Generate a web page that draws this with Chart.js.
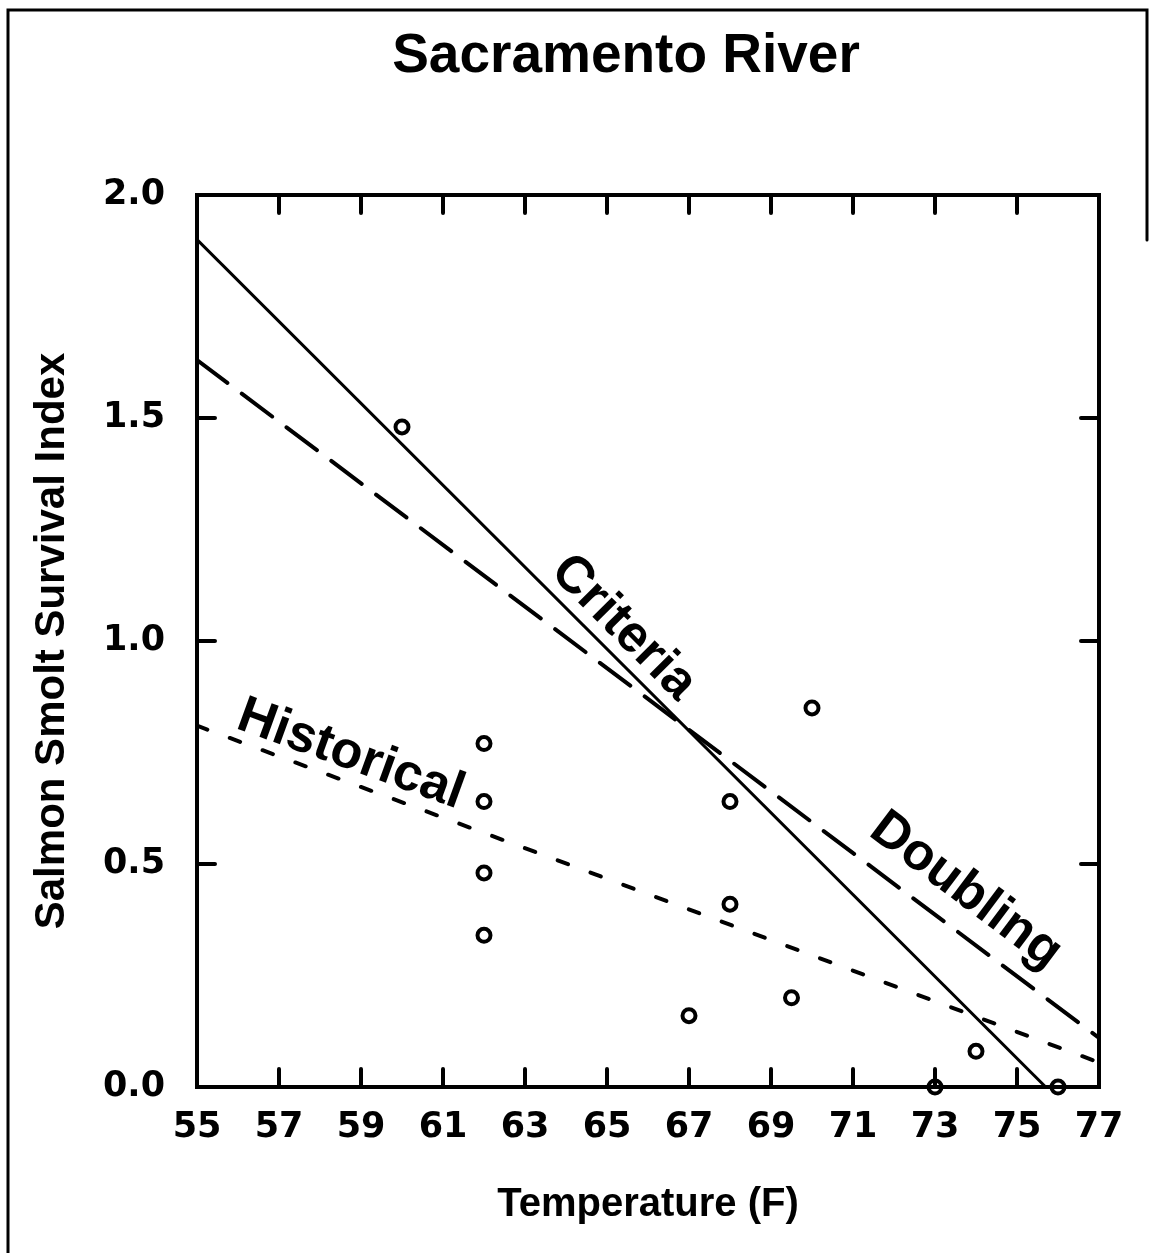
<!DOCTYPE html>
<html>
<head>
<meta charset="utf-8">
<title>Sacramento River</title>
<script src="https://cdn.jsdelivr.net/npm/chart.js@4.4.1/dist/chart.umd.min.js"></script>
<style>
	html, body { margin: 0; padding: 0; background: #fff; }
	#box { width: 1149px; height: 1253px; }
</style>
</head>
<body>
<div id="box"><canvas id="smoltChart" width="1149" height="1253"></canvas></div>
<script>
// observed survival index vs. water temperature
const obsTemp = [60, 62, 62, 62, 62, 67, 68, 68, 69.5, 70, 73, 74, 76];
const obsIndex = [1.48, 0.77, 0.64, 0.48, 0.34, 0.16, 0.64, 0.41, 0.2, 0.85, 0.0, 0.08, 0.0];

// fitted lines (end points)
const criteriaTemp = [55, 75.7];
const criteriaIndex = [1.9, 0.0];
const doublingTemp = [55, 77];
const doublingIndex = [1.63, 0.11];
const historicalTemp = [55, 77];
const historicalIndex = [0.81, 0.055];

const xTicks = [55, 57, 59, 61, 63, 65, 67, 69, 71, 73, 75, 77];
const yTicks = [0, 0.5, 1.0, 1.5, 2.0];

const FONT = "'Liberation Sans', Arial, Helvetica, sans-serif";
const TICK_FONT = "'DejaVu Sans', 'Liberation Sans', sans-serif";

function toPoints(xs, ys) {
	return xs.map((x, i) => ({ x: x, y: ys[i] }));
}

// line names written along the lines (in data units)
const lineLabels = [
	{ text: 'Criteria', x: 65.4, y: 1.03, angle: 45 },
	{ text: 'Doubling', x: 73.75, y: 0.44, angle: 37 },
	{ text: 'Historical', x: 58.75, y: 0.745, angle: 20 },
];

const framePlugin = {
	id: 'frame',
	afterDatasetsDraw(chart) {
		const c = chart.ctx;
		const a = chart.chartArea;
		const xs = chart.scales.x;
		const ys = chart.scales.y;
		c.save();
		c.strokeStyle = '#000';
		c.lineCap = 'round';

		// page border
		c.lineWidth = 3;
		c.beginPath();
		c.moveTo(8, 1253);
		c.lineTo(8, 10);
		c.lineTo(1147, 10);
		c.lineTo(1147, 240);
		c.stroke();

		// plot box
		c.lineWidth = 4;
		c.lineCap = 'square';
		c.strokeRect(a.left, a.top, a.right - a.left, a.bottom - a.top);

		// inward ticks on all four sides
		c.lineCap = 'round';
		const len = 18;
		xs.ticks.forEach((t) => {
			if (t.value <= xs.min || t.value >= xs.max) return;
			const px = xs.getPixelForValue(t.value);
			c.beginPath();
			c.moveTo(px, a.bottom);
			c.lineTo(px, a.bottom - len);
			c.moveTo(px, a.top);
			c.lineTo(px, a.top + len);
			c.stroke();
		});
		ys.ticks.forEach((t) => {
			if (t.value <= ys.min || t.value >= ys.max) return;
			const py = ys.getPixelForValue(t.value);
			c.beginPath();
			c.moveTo(a.left, py);
			c.lineTo(a.left + len, py);
			c.moveTo(a.right, py);
			c.lineTo(a.right - len, py);
			c.stroke();
		});

		// title
		c.fillStyle = '#000';
		c.font = 'bold 55px ' + FONT;
		c.textAlign = 'center';
		c.textBaseline = 'middle';
		c.fillText('Sacramento River', 626, 57);

		// line names
		c.font = 'bold 52px ' + FONT;
		lineLabels.forEach((l) => {
			c.save();
			c.translate(xs.getPixelForValue(l.x), ys.getPixelForValue(l.y));
			c.rotate((l.angle * Math.PI) / 180);
			c.fillText(l.text, 0, 0);
			c.restore();
		});
		c.restore();
	},
};

const ctx = document.getElementById('smoltChart').getContext('2d');
let smoltChart = new Chart(ctx, {
	type: 'scatter',
	data: {
		datasets: [
			{
				label: 'Observed',
				data: toPoints(obsTemp, obsIndex),
				pointStyle: 'circle',
				pointRadius: 6.5,
				borderWidth: 4,
				borderColor: '#000',
				backgroundColor: '#fff',
				clip: false,
			},
			{
				label: 'Criteria',
				type: 'line',
				data: toPoints(criteriaTemp, criteriaIndex),
				borderColor: '#000',
				borderWidth: 3,
				pointRadius: 0,
				fill: false,
			},
			{
				label: 'Doubling',
				type: 'line',
				data: toPoints(doublingTemp, doublingIndex),
				borderColor: '#000',
				borderWidth: 4,
				borderDash: [38, 18],
				borderCapStyle: 'round',
				pointRadius: 0,
				fill: false,
			},
			{
				label: 'Historical',
				type: 'line',
				data: toPoints(historicalTemp, historicalIndex),
				borderColor: '#000',
				borderWidth: 4,
				borderDash: [11, 24],
				borderCapStyle: 'round',
				pointRadius: 0,
				fill: false,
			},
		],
	},
	options: {
		responsive: false,
		animation: false,
		devicePixelRatio: 1,
		layout: {
			padding: { left: 0, right: 50, top: 195, bottom: 0 },
		},
		plugins: {
			legend: { display: false },
			tooltip: { enabled: false },
			title: { display: false },
		},
		scales: {
			x: {
				type: 'linear',
				min: 55,
				max: 77,
				afterBuildTicks: (scale) => {
					scale.ticks = xTicks.map((v) => ({ value: v }));
				},
				afterFit: (scale) => {
					scale.height = 166;
				},
				ticks: {
					color: '#000',
					padding: 20,
					maxRotation: 0,
					font: { family: TICK_FONT, size: 35, weight: 'bold' },
				},
				grid: { display: false, drawTicks: false },
				border: { display: false },
				title: {
					display: true,
					text: 'Temperature (F)',
					color: '#000',
					padding: { top: 0, bottom: 24 },
					font: { family: FONT, size: 40, weight: 'bold' },
				},
			},
			y: {
				type: 'linear',
				min: 0,
				max: 2,
				afterBuildTicks: (scale) => {
					scale.ticks = yTicks.map((v) => ({ value: v }));
				},
				afterFit: (scale) => {
					scale.width = 197;
				},
				ticks: {
					color: '#000',
					padding: 32,
					font: { family: TICK_FONT, size: 35, weight: 'bold' },
					callback: (v) => Number(v).toFixed(1),
				},
				grid: { display: false, drawTicks: false },
				border: { display: false },
				title: {
					display: true,
					text: 'Salmon Smolt Survival Index',
					color: '#000',
					padding: { top: 27, bottom: 0 },
					font: { family: FONT, size: 42, weight: 'bold' },
				},
			},
		},
	},
	plugins: [framePlugin],
});
</script>
</body>
</html>
